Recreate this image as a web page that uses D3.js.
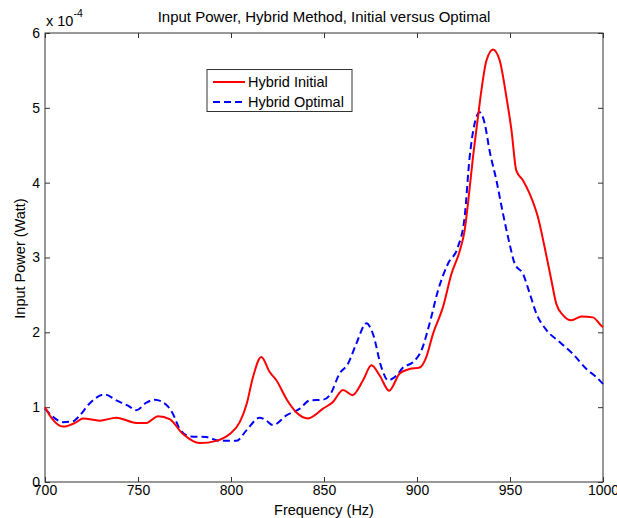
<!DOCTYPE html>
<meta charset="utf-8">
<style>
body { margin: 0; background: #fff; }
svg { font-family: "Liberation Sans", Arial, sans-serif; }
.axis text { font-size: 14px; fill: #000; }
.axis path, .axis line { stroke: #333; }
.title { font-size: 15px; }
.label { font-size: 14.5px; }
.legend text { font-size: 14.5px; }
</style>
<body>
<svg width="617" height="518"></svg>
</body>
<script src="https://cdn.jsdelivr.net/npm/d3@7"></script>
<script>

// Hybrid Initial (solid red), power in units of 1e-4 W
var freqInitial = [700, 704, 709.7, 716.9, 720.4, 729.4, 738.4, 749.1, 754.5, 760.8, 767, 774.2, 783.2, 792.2, 799.3, 804.7,
  808.5, 811.8, 816.3, 820.8, 824.4, 829.8, 835.2, 841.4, 849.5, 854.8, 860.2, 865.3, 871, 875.5, 880, 885, 890.7, 896,
  901.4, 905, 908.6, 914, 918.5, 923, 925.6, 927.4, 930.1, 932.8, 934.6, 937.3, 940.9, 944.5, 948.1, 950.8, 953.4, 957,
  960.6, 965, 968.6, 972.3, 974.9, 978.5, 983, 988.4, 994.6, 999, 1000];
var powerInitial = [1.0, 0.84, 0.74, 0.80, 0.85, 0.82, 0.86, 0.79, 0.79, 0.88, 0.84, 0.64, 0.52, 0.55, 0.64, 0.80,
  1.05, 1.40, 1.67, 1.47, 1.36, 1.11, 0.93, 0.85, 0.98, 1.07, 1.23, 1.16, 1.36, 1.56, 1.42, 1.22, 1.45, 1.51,
  1.53, 1.67, 1.98, 2.34, 2.78, 3.09, 3.36, 3.72, 4.34, 4.88, 5.23, 5.63, 5.78, 5.63, 5.14, 4.70, 4.16, 4.03,
  3.85, 3.54, 3.14, 2.69, 2.38, 2.23, 2.16, 2.21, 2.20, 2.09, 2.07];

// Hybrid Optimal (dashed blue)
var freqOptimal = [700, 704.3, 709.7, 715, 718.7, 724, 732.1, 738.4, 744.6, 749.1, 754.5, 759, 765.3, 768.8, 772.4, 777.8,
  786.8, 793.9, 802.9, 808.3, 815.4, 819, 822.6, 829.8, 837, 842.3, 849.5, 853.1, 858.4, 862.9, 867.4, 872.8, 876.3,
  880.9, 884.4, 888.9, 892.5, 897.8, 902.4, 906.8, 911.3, 916.7, 922, 925.6, 928.3, 931, 933.7, 936.4, 939, 942.7,
  946.2, 949.8, 952.5, 957, 960.6, 964.2, 969.6, 976.7, 983.9, 991.1, 996.5, 1000];
var powerOptimal = [0.98, 0.87, 0.80, 0.81, 0.89, 1.05, 1.17, 1.09, 1.02, 0.96, 1.06, 1.10, 1.03, 0.91, 0.71, 0.61,
  0.60, 0.55, 0.55, 0.69, 0.86, 0.82, 0.76, 0.89, 0.98, 1.09, 1.10, 1.16, 1.45, 1.58, 1.85, 2.12, 1.98,
  1.53, 1.36, 1.42, 1.53, 1.60, 1.76, 2.12, 2.56, 2.92, 3.14, 3.54, 4.34, 4.79, 4.94, 4.79, 4.43, 4.03,
  3.59, 3.18, 2.92, 2.78, 2.52, 2.25, 2.03, 1.87, 1.71, 1.51, 1.40, 1.31];

var xTicks = [700, 750, 800, 850, 900, 950, 1000];
var yTicks = [0, 1, 2, 3, 4, 5, 6];

var svg = d3.select("svg"),
    plotL = 45, plotR = 603, plotT = 33, plotB = 482;

var x = d3.scaleLinear().domain([700, 1000]).range([plotL, plotR]);
var y = d3.scaleLinear().domain([0, 6]).range([plotB, plotT]);

// box
svg.append("rect")
    .attr("x", plotL).attr("y", plotT)
    .attr("width", plotR - plotL).attr("height", plotB - plotT)
    .attr("fill", "none").attr("stroke", "#333");

// axes with inward ticks (also on top and right, like matlab)
svg.append("g").attr("class", "axis")
    .attr("transform", "translate(0," + plotB + ")")
    .call(d3.axisBottom(x).tickValues(xTicks).tickSize(-5).tickPadding(3).tickFormat(d3.format("d")))
    .call(g => g.select(".domain").remove());
svg.append("g").attr("class", "axis")
    .attr("transform", "translate(0," + plotT + ")")
    .call(d3.axisTop(x).tickValues(xTicks).tickSize(-5).tickFormat(""))
    .call(g => g.select(".domain").remove());
svg.append("g").attr("class", "axis")
    .attr("transform", "translate(" + plotL + ",0)")
    .call(d3.axisLeft(y).tickValues(yTicks).tickSize(-5).tickPadding(5).tickFormat(d3.format("d")))
    .call(g => g.select(".domain").remove());
svg.append("g").attr("class", "axis")
    .attr("transform", "translate(" + plotR + ",0)")
    .call(d3.axisRight(y).tickValues(yTicks).tickSize(-5).tickFormat(""))
    .call(g => g.select(".domain").remove());

// exponent
var ex = svg.append("text").attr("class", "label").attr("x", plotL + 1).attr("y", 26).attr("font-size", "15px");
ex.append("tspan").text("x 10");
ex.append("tspan").attr("dy", -9).attr("font-size", "10.5px").text("-4");

// lines
var line = d3.line()
    .x(d => x(d[0]))
    .y(d => y(d[1]))
    .curve(d3.curveMonotoneX);

svg.append("path")
    .datum(d3.zip(freqOptimal, powerOptimal))
    .attr("fill", "none")
    .attr("stroke", "#0000ff")
    .attr("stroke-width", 2)
    .attr("stroke-dasharray", "7,4")
    .attr("d", line);

svg.append("path")
    .datum(d3.zip(freqInitial, powerInitial))
    .attr("fill", "none")
    .attr("stroke", "#ff0000")
    .attr("stroke-width", 2)
    .attr("d", line);

// title and labels
svg.append("text").attr("class", "title")
    .attr("x", (plotL + plotR) / 2).attr("y", 22)
    .attr("text-anchor", "middle")
    .text("Input Power, Hybrid Method, Initial versus Optimal");

svg.append("text").attr("class", "label")
    .attr("x", (plotL + plotR) / 2).attr("y", 515)
    .attr("text-anchor", "middle")
    .text("Frequency (Hz)");

svg.append("text").attr("class", "label")
    .attr("transform", "translate(25," + ((plotT + plotB) / 2 + 1) + ") rotate(-90)")
    .attr("text-anchor", "middle")
    .text("Input Power (Watt)");

// legend
var legend = svg.append("g").attr("class", "legend");
legend.append("rect")
    .attr("x", 207).attr("y", 69.5).attr("width", 145).attr("height", 42)
    .attr("fill", "#fff").attr("stroke", "#333");
var items = [["Hybrid Initial", "#ff0000", null], ["Hybrid Optimal", "#0000ff", "7,4"]];
items.forEach(function(it, i) {
  var cy = 82 + i * 20;
  legend.append("line")
      .attr("x1", 213).attr("x2", 245).attr("y1", cy).attr("y2", cy)
      .attr("stroke", it[1]).attr("stroke-width", 2)
      .attr("stroke-dasharray", it[2]);
  legend.append("text")
      .attr("x", 248).attr("y", cy + 5)
      .text(it[0]);
});

</script>
